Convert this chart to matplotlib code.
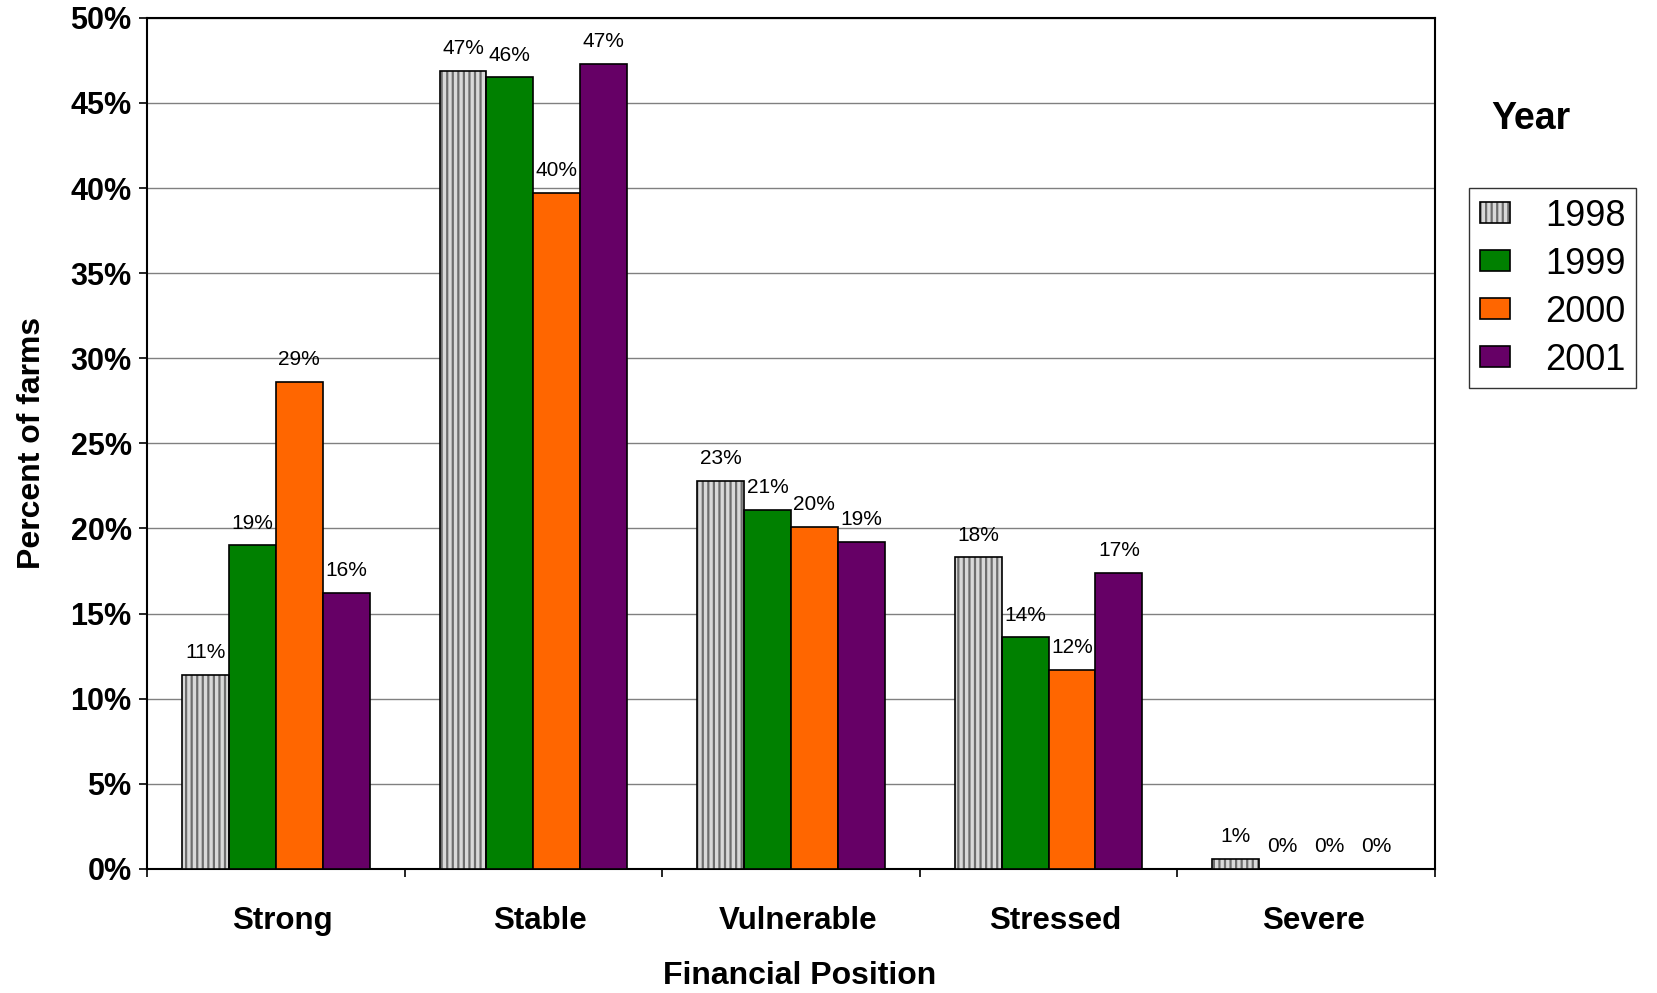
import numpy as np
import matplotlib
matplotlib.use("Agg")
import matplotlib.pyplot as plt
from matplotlib.patches import Patch
from matplotlib.ticker import FuncFormatter, MultipleLocator

plt.rcParams['font.family'] = ['Liberation Sans', 'DejaVu Sans']
plt.rcParams['hatch.linewidth'] = 1.6

positions = ['Strong', 'Stable', 'Vulnerable', 'Stressed', 'Severe']
years = ['1998', '1999', '2000', '2001']
pct_1998 = [11.4, 46.9, 22.8, 18.3, 0.6]
pct_1999 = [19.0, 46.5, 21.1, 13.6, 0.0]
pct_2000 = [28.6, 39.7, 20.1, 11.7, 0.0]
pct_2001 = [16.2, 47.3, 19.2, 17.4, 0.0]
series = [pct_1998, pct_1999, pct_2000, pct_2001]

colors = ['#d9d9d9', '#008000', '#ff6600', '#660066']

fig = plt.figure(figsize=(16.57, 9.93), dpi=100)
ax = fig.add_axes([0.0887, 0.125, 0.7773, 0.857])

x = np.arange(len(positions))
w = 0.182
handles = []
for i, vals in enumerate(series):
    xs = x + (i - 1.5) * w
    if i == 0:
        # striped fill first, then a black outline on top
        ax.bar(xs, vals, w, color=colors[i], edgecolor='#6e6e6e', hatch='|||',
               linewidth=0, zorder=3)
        ax.bar(xs, vals, w, fill=False, edgecolor='black', linewidth=1.2, zorder=4)
        h = (Patch(facecolor=colors[i], edgecolor='#6e6e6e', hatch='|||', linewidth=0),
             Patch(fill=False, edgecolor='black', linewidth=1.2))
    else:
        ax.bar(xs, vals, w, color=colors[i], edgecolor='black', linewidth=1.2, zorder=3)
        h = Patch(facecolor=colors[i], edgecolor='black', linewidth=1.2)
    handles.append(h)
    for xv, v in zip(xs, vals):
        ax.annotate(f"{v:.0f}%", (xv, v), xytext=(0, 16), textcoords='offset points',
                    ha='center', va='center', fontsize=15)

ax.set_xlim(-0.5, len(positions) - 0.5)
ax.set_ylim(0, 50)
ax.yaxis.set_major_locator(MultipleLocator(5))
ax.yaxis.set_major_formatter(FuncFormatter(lambda v, p: f"{v:.0f}%"))
ax.yaxis.grid(True, color='#808080', linewidth=1.0, zorder=0)
ax.set_axisbelow(True)

# category names sit a touch right of the group centres
ax.set_xticks(np.arange(-0.5, len(positions)))
ax.set_xticklabels([])
ax.set_xticks(x + 0.027, minor=True)
ax.set_xticklabels(positions, minor=True)
ax.tick_params(axis='x', which='major', direction='out', length=6, width=1.2)
ax.tick_params(axis='x', which='minor', length=0, pad=27, labelsize=22.5)
ax.tick_params(axis='y', direction='out', length=6, width=1.2, pad=5, labelsize=22)
for lbl in ax.get_xticklabels(minor=True) + ax.get_yticklabels():
    lbl.set_fontweight('bold')

for s in ax.spines.values():
    s.set_linewidth(1.5)

ax.set_xlabel('Financial Position', fontsize=23, fontweight='bold')
ax.xaxis.set_label_coords(0.507, -0.108)
ax.set_ylabel('Percent of farms', fontsize=23, fontweight='bold', labelpad=17)

fig.text(0.900, 0.880, 'Year', fontsize=27, fontweight='bold', ha='left', va='center')
leg = fig.legend(handles, years, loc='upper left', bbox_to_anchor=(0.8865, 0.811),
                 fontsize=26, frameon=True, fancybox=False, edgecolor='black',
                 handlelength=0.85, handleheight=0.5, handletextpad=0.95,
                 labelspacing=0.36, borderpad=0.3, borderaxespad=0)
leg.get_frame().set_linewidth(1.0)

fig.savefig('out.png', dpi=100)
